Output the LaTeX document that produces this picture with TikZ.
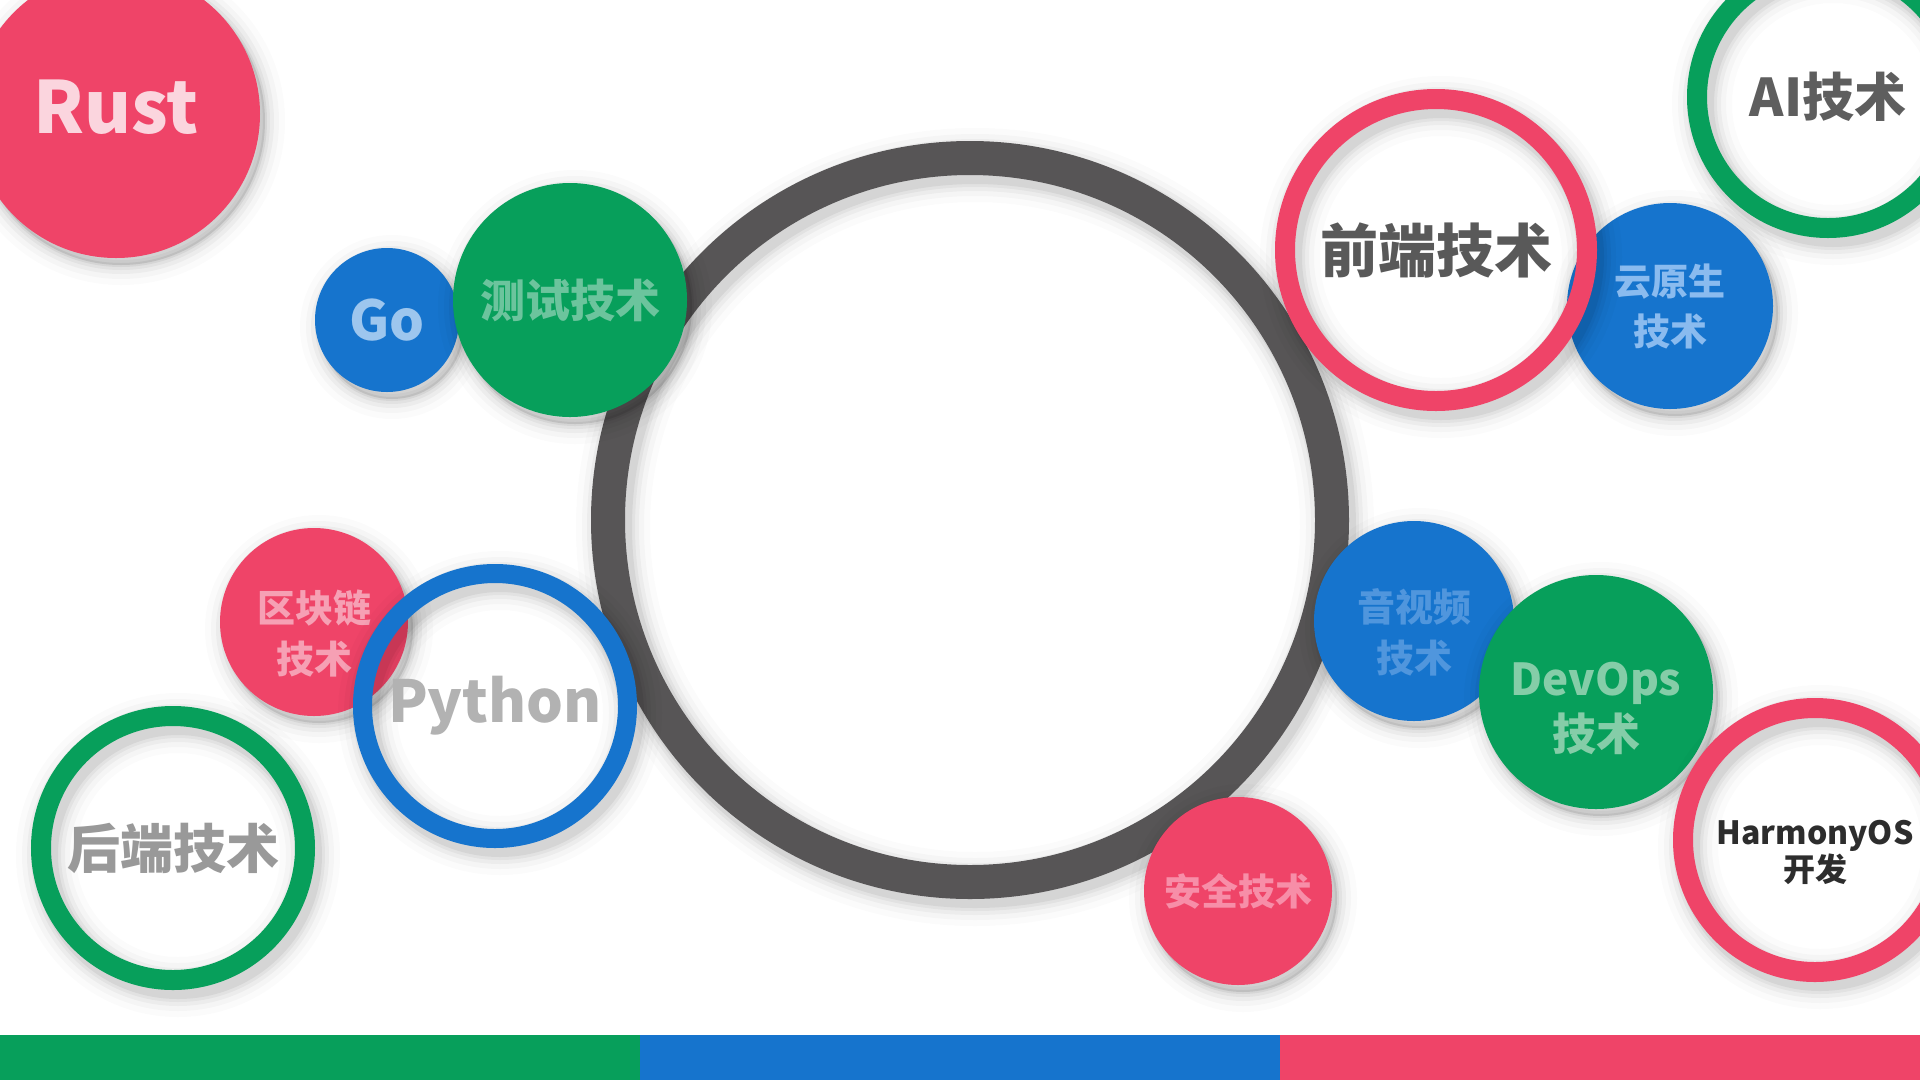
\documentclass[tikz,border=0pt]{standalone}
\usepackage{fontspec}
\setmainfont{Noto Sans CJK SC}
\definecolor{techred}{HTML}{EF4468}
\definecolor{techgreen}{HTML}{079F5B}
\definecolor{techblue}{HTML}{1674CD}
\definecolor{ringgray}{HTML}{575556}
\definecolor{rustpink}{HTML}{FBD5DE}
\definecolor{goblue}{HTML}{9DC6EE}
\definecolor{testgreen}{HTML}{6CC49D}
\definecolor{chainpink}{HTML}{F6A0B4}
\definecolor{pygray}{HTML}{B2B2B2}
\definecolor{backgray}{HTML}{999999}
\definecolor{aigray}{HTML}{5E5E5E}
\definecolor{cloudblue}{HTML}{8ABBEF}
\definecolor{frontgray}{HTML}{595959}
\definecolor{avblue}{HTML}{5096DD}
\definecolor{opsgreen}{HTML}{85CDA8}
\definecolor{harmonyblack}{HTML}{2D2D2D}
\definecolor{securepink}{HTML}{F78EA8}

\begin{document}
\begin{tikzpicture}[x=1pt, y=-1pt,
    shadowed/.style={
      preaction={draw=black, fill=none, draw opacity=.05, line width=#1+4pt, transform canvas={shift={(5pt,-7pt)}}},
      preaction={draw=black, fill=none, draw opacity=.04, line width=#1+10pt, transform canvas={shift={(5pt,-7pt)}}},
      preaction={draw=black, fill=none, draw opacity=.035, line width=#1+18pt, transform canvas={shift={(5pt,-7pt)}}},
      preaction={draw=black, fill=none, draw opacity=.025, line width=#1+28pt, transform canvas={shift={(5pt,-7pt)}}},
      preaction={draw=black, fill=none, draw opacity=.015, line width=#1+40pt, transform canvas={shift={(5pt,-7pt)}}}},
    techdisc/.style={circle, inner sep=0pt, align=center, fill=#1,
      preaction={fill=black, fill opacity=.1, transform canvas={shift={(5pt,-7pt)}}}, shadowed=0pt},
    techring/.style 2 args={circle, inner sep=0pt, align=center, draw=#1, line width=#2, shadowed=#2},
    fs/.style 2 args={font=\bfseries\fontsize{#1}{#2}\selectfont},
    caption/.style={align=center, inner sep=0pt}]
  \useasboundingbox (0,0) rectangle (1920,1080);
  \fill[white] (0,0) rectangle (1920,1080);
  % centre ring
  \node[techring={ringgray}{34pt}, minimum size=724pt] (core) at (970,520) {};
  % left side
  \node[techdisc=techblue, minimum size=144pt, fs={55pt}{60pt}, text=goblue] (go) at (387,320) {Go};
  \node[techdisc=techgreen, minimum size=234pt, fs={45pt}{50pt}, text=testgreen] (test) at (570,300) {测试技术};
  \node[techdisc=techred, minimum size=188pt,
    label={[caption, yshift=-11pt, fs={38pt}{51pt}, text=chainpink]center:区块链\\技术}] (chain) at (314,622) {};
  \node[techring={techblue}{19pt}, minimum size=265pt, fs={58pt}{64pt}, text=pygray] (python) at (495,706) {Python};
  \node[techring={techgreen}{20pt}, minimum size=264pt, fs={53pt}{60pt}, text=backgray] (backend) at (173,848) {后端技术};
  % right side
  \node[techring={techgreen}{20pt}, minimum size=262pt, fs={52pt}{60pt}, text=aigray] (ai) at (1828,97) {AI技术};
  \node[techdisc=techblue, minimum size=206pt, fs={37pt}{50pt}, text=cloudblue] (cloud) at (1670,306) {云原生\\技术};
  \node[techring={techred}{20pt}, minimum size=302pt, fs={58pt}{64pt}, text=frontgray] (frontend) at (1436,250) {前端技术};
  \node[techdisc=techblue, minimum size=200pt,
    label={[caption, yshift=-11pt, fs={38pt}{51pt}, text=avblue]center:音视频\\技术}] (av) at (1414,621) {};
  \node[techdisc=techgreen, minimum size=234pt,
    label={[caption, yshift=-16pt, fs={44pt}{55pt}, text=opsgreen]center:DevOps\\技术}] (devops) at (1596,692) {};
  \node[techring={techred}{20pt}, minimum size=264pt,
    label={[caption, yshift=-12pt, fs={32pt}{37pt}, text=harmonyblack]center:HarmonyOS\\开发}] (harmony) at (1815,840) {};
  \node[techdisc=techred, minimum size=188pt, fs={37pt}{42pt}, text=securepink] (security) at (1238,891) {安全技术};
  \node[techdisc=techred, minimum size=288pt,
    label={[caption, yshift=7pt, fs={72pt}{78pt}, text=rustpink]center:Rust}] (rust) at (116,114) {};
  % bottom bar
  \fill[techgreen] (0,1035) rectangle (640,1080);
  \fill[techblue] (640,1035) rectangle (1280,1080);
  \fill[techred] (1280,1035) rectangle (1920,1080);
\end{tikzpicture}
\end{document}
